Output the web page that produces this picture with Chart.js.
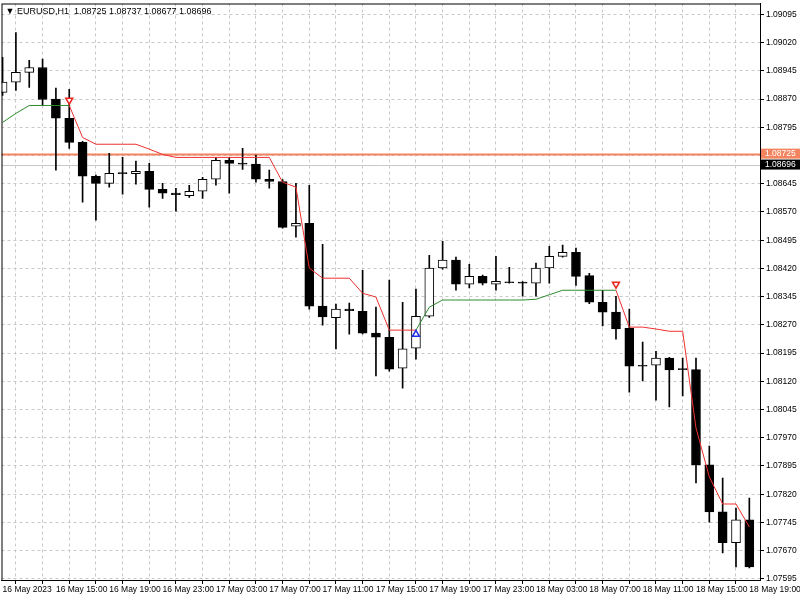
<!DOCTYPE html>
<html><head><meta charset="utf-8">
<script src="https://cdn.jsdelivr.net/npm/chart.js@4"></script>
<style>html,body{margin:0;padding:0;background:#fff;overflow:hidden}#w{width:804px;height:602px;margin-left:-4px;margin-top:-2px}</style>
</head><body><div id="w"><canvas id="c"></canvas></div>
<script>
const timeLabels = ["16 May 2023","16 May 15:00","16 May 19:00","16 May 23:00","17 May 03:00","17 May 07:00","17 May 11:00","17 May 15:00","17 May 19:00","17 May 23:00","18 May 03:00","18 May 07:00","18 May 11:00","18 May 15:00","18 May 19:00"];
const opens  = [1.08888,1.08915,1.08941,1.08954,1.08870,1.08819,1.08755,1.08665,1.08646,1.08673,1.08672,1.08678,1.08630,1.08620,1.08613,1.08625,1.08657,1.08707,1.08699,1.08697,1.08657,1.08651,1.08532,1.08540,1.08320,1.08289,1.08312,1.08306,1.08248,1.08237,1.08155,1.08208,1.08293,1.08421,1.08442,1.08378,1.08399,1.08378,1.08384,1.08382,1.08381,1.08421,1.08452,1.08463,1.08401,1.08330,1.08304,1.08261,1.08162,1.08163,1.08182,1.08152,1.08151,1.07898,1.07773,1.07691,1.07752];
const highs  = [1.08981,1.09047,1.08973,1.08976,1.08899,1.08896,1.08758,1.08668,1.08726,1.08715,1.08705,1.08699,1.08646,1.08633,1.08641,1.08662,1.08715,1.08715,1.08739,1.08721,1.08681,1.08656,1.08646,1.08641,1.08484,1.08325,1.08328,1.08415,1.08317,1.08389,1.08330,1.08365,1.08455,1.08492,1.08450,1.08431,1.08402,1.08452,1.08423,1.08385,1.08434,1.08479,1.08482,1.08474,1.08407,1.08362,1.08346,1.08312,1.08224,1.08200,1.08184,1.08182,1.08182,1.07948,1.07863,1.07783,1.07810];
const lows   = [1.08880,1.08893,1.08901,1.08853,1.08681,1.08739,1.08596,1.08548,1.08636,1.08617,1.08644,1.08583,1.08606,1.08572,1.08609,1.08606,1.08641,1.08620,1.08683,1.08649,1.08633,1.08527,1.08503,1.08312,1.08269,1.08206,1.08245,1.08246,1.08134,1.08147,1.08102,1.08179,1.08290,1.08418,1.08362,1.08368,1.08376,1.08362,1.08381,1.08346,1.08346,1.08381,1.08450,1.08375,1.08326,1.08267,1.08232,1.08091,1.08121,1.08070,1.08052,1.08081,1.07850,1.07746,1.07664,1.07627,1.07624];
const closes = [1.08915,1.08941,1.08954,1.08869,1.08819,1.08755,1.08665,1.08646,1.08673,1.08672,1.08678,1.08630,1.08620,1.08616,1.08625,1.08657,1.08707,1.08699,1.08697,1.08657,1.08651,1.08529,1.08540,1.08320,1.08291,1.08312,1.08308,1.08248,1.08237,1.08152,1.08206,1.08293,1.08421,1.08442,1.08378,1.08399,1.08381,1.08386,1.08382,1.08381,1.08421,1.08452,1.08463,1.08399,1.08330,1.08304,1.08259,1.08160,1.08160,1.08182,1.08150,1.08151,1.07898,1.07773,1.07691,1.07752,1.07627];
const stopUp   = [1.08808,1.08832,1.08853,1.08853,1.08853,1.08853,null,null,null,null,null,null,null,null,null,null,null,null,null,null,null,null,null,null,null,null,null,null,null,null,null,1.08256,1.08317,1.08336,1.08336,1.08336,1.08336,1.08336,1.08336,1.08336,1.08338,1.08350,1.08362,1.08362,1.08362,1.08362,1.08362,null,null,null,null,null,null,null,null,null,null];
const stopDown = [null,null,null,null,null,1.08853,1.08768,1.08750,1.08750,1.08750,1.08750,1.08737,1.08723,1.08715,1.08715,1.08715,1.08715,1.08715,1.08715,1.08715,1.08715,1.08649,1.08636,1.08421,1.08394,1.08394,1.08394,1.08354,1.08344,1.08256,1.08256,1.08256,null,null,null,null,null,null,null,null,null,null,null,null,null,null,1.08362,1.08264,1.08264,1.08259,1.08253,1.08253,1.07996,1.07866,1.07794,1.07794,1.07733];
const sellSignals = [{i:5,p:1.08867},{i:46,p:1.08378}];
const buySignals  = [{i:31,p:1.08245}];
const priceTicks = [1.09095,1.09020,1.08945,1.08870,1.08795,1.08720,1.08645,1.08570,1.08495,1.08420,1.08345,1.08270,1.08195,1.08120,1.08045,1.07970,1.07895,1.07820,1.07745,1.07670,1.07595];
const bidPrice = 1.08696, openPrice = 1.08725;

const idx = opens.map((_,i)=>i);
const FONT = {family:'Liberation Sans', size:8.5};
const up = idx.map(i=>closes[i]>=opens[i]);

const overlay = {
  id:'overlay',
  beforeDatasetsDraw(ch){
    const {ctx,chartArea:a,scales:{y}}=ch;
    ctx.save();
    let yy=Math.round(y.getPixelForValue(bidPrice))+0.5;
    ctx.strokeStyle='#c8c8c8';ctx.lineWidth=1;ctx.beginPath();ctx.moveTo(a.left,yy);ctx.lineTo(a.right,yy);ctx.stroke();
    yy=Math.round(y.getPixelForValue(openPrice))+0.5;
    ctx.strokeStyle='#f4845f';ctx.lineWidth=2;ctx.beginPath();ctx.moveTo(a.left,yy);ctx.lineTo(a.right,yy);ctx.stroke();
    ctx.restore();
  },
  afterDraw(ch){
    const {ctx,chartArea:a,scales:{y}}=ch;
    ctx.save();
    ctx.strokeStyle='#000';ctx.lineWidth=1;
    ctx.strokeRect(a.left+0.5,a.top+0.5,a.right-a.left,a.bottom-a.top);
    ctx.font='8.5px Liberation Sans';ctx.textBaseline='middle';
    const tag=(p,bg)=>{const yy=y.getPixelForValue(p);ctx.fillStyle=bg;ctx.fillRect(a.right+1,yy-5,39,10);ctx.fillStyle='#fff';ctx.fillText(p.toFixed(5),a.right+5,yy);};
    tag(openPrice,'#f4845f');tag(bidPrice,'#000');
    ctx.font='9px Liberation Sans';
    ctx.fillStyle='#000';ctx.fillText('\u25BC EURUSD,H1  1.08725 1.08737 1.08677 1.08696',a.left+4,a.top+8);
    ctx.restore();
  }
};

new Chart(document.getElementById('c'),{
  type:'bar',
  data:{datasets:[
    {type:'scatter',data:sellSignals.map(s=>({x:s.i,y:s.p})),pointStyle:'triangle',rotation:180,radius:4,borderColor:'#e8261e',backgroundColor:'#fff',borderWidth:1.5},
    {type:'scatter',data:buySignals.map(s=>({x:s.i,y:s.p})),pointStyle:'triangle',radius:4,borderColor:'#1f2ee8',backgroundColor:'#fff',borderWidth:1.5},
    {type:'line',data:idx.map(i=>({x:i,y:stopUp[i]})),borderColor:'#2e8b2e',borderWidth:1,pointRadius:0,spanGaps:false},
    {type:'line',data:idx.map(i=>({x:i,y:stopDown[i]})),borderColor:'#f03030',borderWidth:1,pointRadius:0,spanGaps:false},
    {data:idx.map(i=>({x:i,y:[opens[i],closes[i]]})),backgroundColor:up.map(u=>u?'#fff':'#000'),borderColor:'#000',borderWidth:1,borderSkipped:false,barThickness:9,minBarLength:1,grouped:false},
    {data:idx.map(i=>({x:i,y:[lows[i],highs[i]]})),backgroundColor:'#000',barThickness:1,grouped:false}
  ]},
  plugins:[overlay],
  options:{
    responsive:true,maintainAspectRatio:false,animation:false,
    layout:{padding:0},
    plugins:{legend:{display:false},tooltip:{enabled:false}},
    scales:{
      x:{type:'linear',min:-0.08,max:56.8,offset:false,
        afterBuildTicks(s){s.ticks=[];for(let i=0;i<=56;i+=2)s.ticks.push({value:i});},
        afterFit(s){s.height=20;s.paddingLeft=0;s.paddingRight=0;},
        grid:{color:'#c8c8c8',tickColor:'#000',tickLength:4},
        border:{color:'#000',dash:[3,3]},
        ticks:{font:FONT,color:'#000',maxRotation:0,autoSkip:false,align:'start',padding:1,
          callback:v=>v%4===0?timeLabels[v/4]:''}},
      y:{position:'right',min:1.07592,max:1.09124,
        afterBuildTicks(s){s.ticks=priceTicks.map(v=>({value:v}));},
        afterFit(s){s.width=40;s.paddingTop=0;s.paddingBottom=0;},
        grid:{color:'#c8c8c8',tickColor:'#000',tickLength:4},
        border:{color:'#000',dash:[3,3]},
        ticks:{font:FONT,color:'#000',padding:2,callback:v=>v.toFixed(5)}}
    }
  }
});
</script></body></html>
